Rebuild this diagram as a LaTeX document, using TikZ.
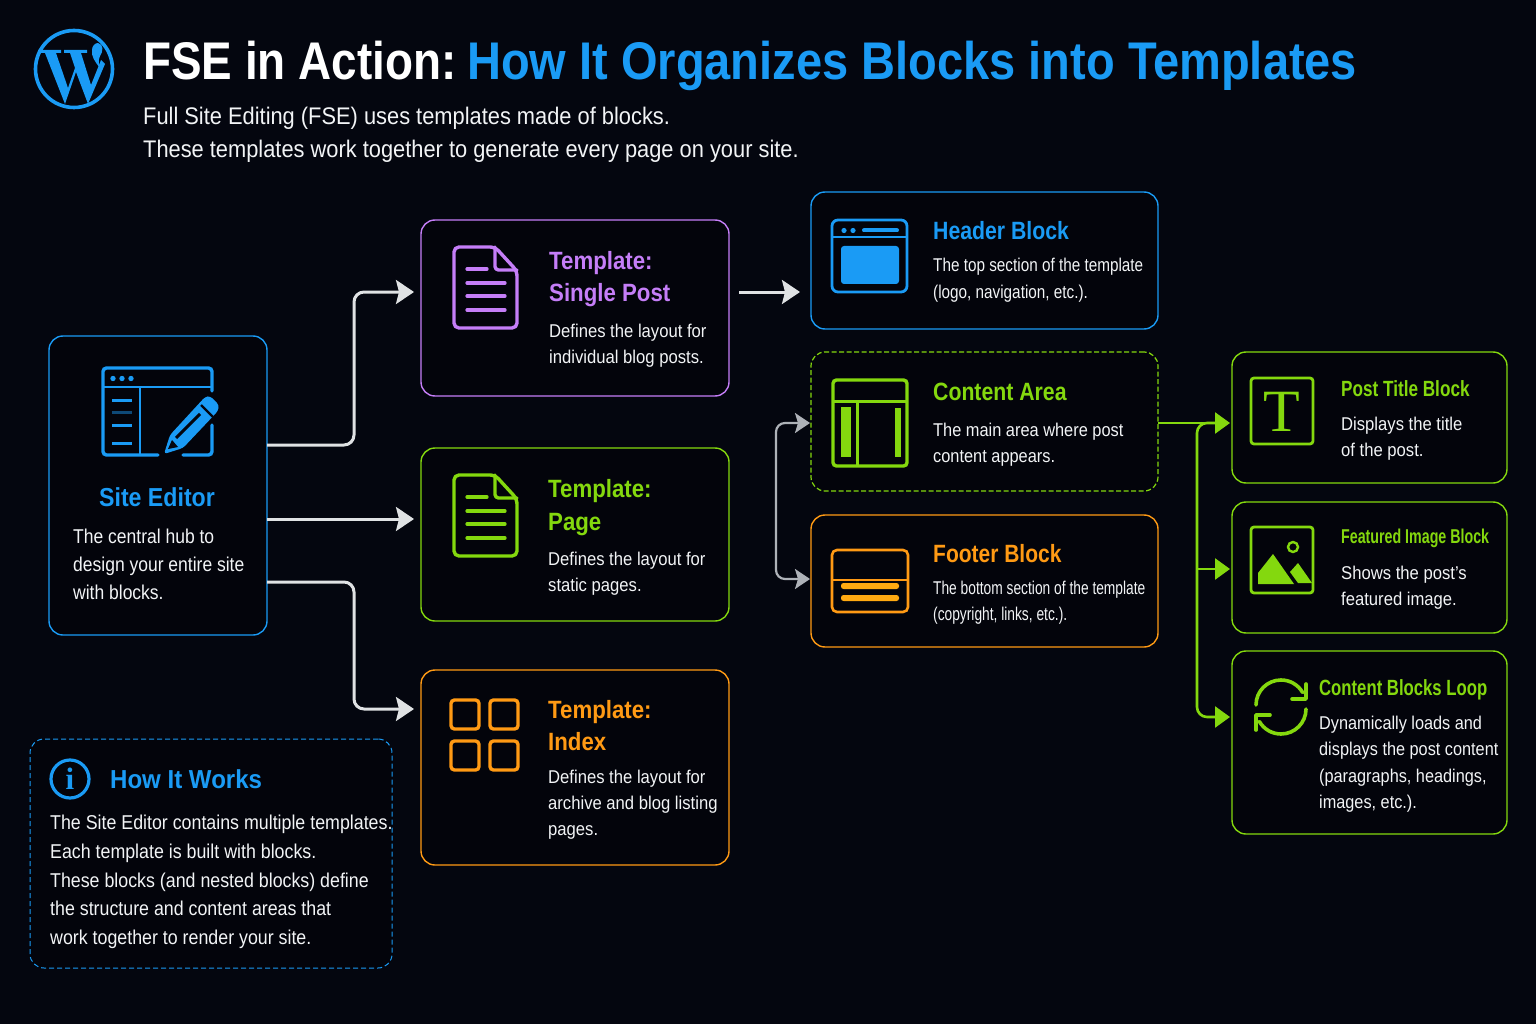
\documentclass[tikz,border=0pt]{standalone}
\usepackage{fontspec}
\setmainfont{Liberation Sans}
\newfontfamily\serifgl{Liberation Serif}
\usetikzlibrary{arrows.meta}
\definecolor{bgdark}{HTML}{04060F}
\definecolor{carddark}{HTML}{03040B}
\definecolor{wpblue}{HTML}{1A9BF5}
\definecolor{fsepurple}{HTML}{C57EF8}
\definecolor{fsegreen}{HTML}{84D80E}
\definecolor{fseorange}{HTML}{FF9A14}
\definecolor{bodywhite}{HTML}{F2F4F6}
\definecolor{flowwhite}{HTML}{E0E2E4}
\definecolor{flowgray}{HTML}{AEB2B8}
\tikzset{
	card/.style={draw=#1,fill=carddark,line width=1.4pt,rounded corners=14pt,inner sep=0pt,outer sep=0pt},
	sz/.style 2 args={font=\fontsize{#1}{#2}\selectfont},
	squeeze/.style={xscale=#1,transform shape},
	bodytxt/.style={anchor=north west,inner sep=0pt,align=left,text=bodywhite},
	headtxt/.style={anchor=north west,inner sep=0pt,align=left,text=#1},
	flow/.style={draw=flowwhite,line width=3pt,rounded corners=10pt,-{Stealth[length=18pt,width=24pt,inset=3pt]}},
	backflow/.style={draw=flowgray,line width=2.2pt,rounded corners=9pt,{Stealth[length=15pt,width=20pt,inset=3pt]}-{Stealth[length=15pt,width=20pt,inset=3pt]}},
	greenflow/.style={draw=fsegreen,line width=2.6pt,rounded corners=10pt,-{Stealth[length=15pt,width=21pt,inset=0pt]}},
	icon/.style={draw=#1,line width=3.4pt,rounded corners=3.5pt,line cap=round},
}
% page icon with the folded corner
\newcommand{\docicon}[3]{
	\draw[icon=#1,line join=round,rounded corners=5pt] (#2+41,#3) -- (#2,#3) -- (#2,#3+81) -- (#2+63,#3+81) -- (#2+63,#3+24) -- cycle;
	\draw[icon=#1,line join=round] (#2+41,#3) -- (#2+41,#3+23) -- (#2+63,#3+23);
	\draw[#1,line width=3.2pt,line cap=round] (#2+13,#3+22) -- (#2+33,#3+22);
	\foreach \yy in {36,49,63}
		\draw[#1,line width=3.2pt,line cap=round] (#2+13,#3+\yy) -- (#2+51,#3+\yy);
}
\begin{document}
\begin{tikzpicture}[x=1pt,y=-1pt]
	\fill[bgdark] (0,0) rectangle (1536,1024);
	\useasboundingbox (0,0) rectangle (1536,1024);
	% logo and title
	\draw[wpblue,line width=3.6pt] (74,69) circle (38.5pt);
	\fill[wpblue] (38,50) -- (61,50) -- (61,53) -- (56,53) -- (68,88) -- (75,68) -- (70,53) -- (64,53) -- (64,50) -- (87,50) -- (87,53) -- (81,53) -- (91,85) -- (101,60) -- (105,64) -- (88,104) -- (76,72) -- (65,104) -- (45,53) -- (38,53) -- cycle;
	\fill[wpblue] (98,43) .. controls (104,44) and (103,52) .. (100,56) .. controls (98,60) and (99,64) .. (100,68) .. controls (95,62) and (91,56) .. (92,50) .. controls (92,46) and (95,43) .. (98,43);
	\node[anchor=base west,inner sep=0pt,squeeze=0.865,text=white,sz={53}{53}] (title) at (143,80) {\textbf{FSE in Action:}};
	\node[anchor=base west,inner sep=0pt,squeeze=0.887,text=wpblue,sz={53}{53}] (titleblue) at (467,80) {\textbf{How It Organizes Blocks into Templates}};
	\node[bodytxt,sz={24}{33},squeeze=0.91] (subtitle) at (143,107) {Full Site Editing (FSE) uses templates made of blocks.\\These templates work together to generate every page on your site.};
	% boxes
	\node[card=wpblue,minimum width=218pt,minimum height=299pt] (editor) at (158,485.5) {};
	\node[card=fsepurple,minimum width=308pt,minimum height=176pt] (single) at (575,308) {};
	\node[card=fsegreen,minimum width=308pt,minimum height=173pt] (page) at (575,534.5) {};
	\node[card=fseorange,minimum width=308pt,minimum height=195pt] (index) at (575,767.5) {};
	\node[card=wpblue,minimum width=347pt,minimum height=137pt] (header) at (984.5,260.5) {};
	\node[card=fsegreen,dashed,dash pattern=on 5pt off 2.5pt,line width=1.2pt,minimum width=347pt,minimum height=139pt] (content) at (984.5,421.5) {};
	\node[card=fseorange,minimum width=347pt,minimum height=132pt] (footer) at (984.5,581) {};
	\node[card=fsegreen,minimum width=275pt,minimum height=131pt] (posttitle) at (1369.5,417.5) {};
	\node[card=fsegreen,minimum width=275pt,minimum height=131pt] (featured) at (1369.5,567.5) {};
	\node[card=fsegreen,minimum width=275pt,minimum height=183pt] (loop) at (1369.5,742.5) {};
	\node[card=wpblue,dashed,dash pattern=on 5pt off 3pt,line width=1pt,minimum width=362pt,minimum height=229pt] (howbox) at (211,853.5) {};
	% arrows
	\coordinate (singlein) at ([xshift=-7pt,yshift=16pt]single.west);
	\coordinate (pagein) at ([xshift=-7pt,yshift=15.5pt]page.west);
	\coordinate (indexin) at ([xshift=-7pt,yshift=58.5pt]index.west);
	\draw[flow] ([yshift=40.5pt]editor.east) -| ([xshift=-60pt]singlein) -- (singlein);
	\draw[flow] ([yshift=-33.5pt]editor.east) -- (pagein);
	\draw[flow] ([yshift=-96.5pt]editor.east) -| ([xshift=-60pt]indexin) -- (indexin);
	\draw[flow] ([xshift=10pt,yshift=16pt]single.east) -- ([xshift=-11pt,yshift=-31.5pt]header.west);
	\coordinate (contentin) at ([xshift=-1pt,yshift=-1.5pt]content.west);
	\coordinate (footerin) at ([xshift=-1pt,yshift=2pt]footer.west);
	\draw[backflow] (contentin) -- ([xshift=-34pt]contentin) |- (footerin);
	\coordinate (postin) at ([xshift=-2pt,yshift=-5.5pt]posttitle.west);
	\coordinate (featin) at ([xshift=-2pt,yshift=-1.5pt]featured.west);
	\coordinate (loopin) at ([xshift=-2pt,yshift=25.5pt]loop.west);
	\draw[greenflow] ([yshift=-1.5pt]content.east) -- (postin);
	\draw[greenflow] ([xshift=-15pt]postin) -- ([xshift=-33pt]postin) |- (loopin);
	\draw[greenflow,rounded corners=3pt] ([xshift=-33pt]featin) -- (featin);
	% site editor icon
	\draw[icon=wpblue] (158,455) -- (103,455) -- (103,368) -- (212,368) -- (212,391);
	\draw[icon=wpblue] (183,455) -- (212,455) -- (212,425);
	\draw[wpblue,line width=2.6pt] (103,387) -- (212,387);
	\draw[wpblue,line width=2.6pt] (140,387) -- (140,455);
	\foreach \xx in {113,122,131}
		\fill[wpblue] (\xx,378.5) circle (2.7pt);
	\foreach \yy in {400,425,443}
		\draw[wpblue,line width=3pt] (112,\yy) -- (132,\yy);
	\draw[wpblue!45!bgdark,line width=3pt] (112,412) -- (132,412);
	\fill[wpblue,rounded corners=3pt] (164,454) -- (170,435) -- (205,397) -- (210,396) -- (219,405) -- (218,411) -- (183,448) -- cycle;
	\draw[bgdark,line width=3pt] (176,438) -- (200,414);
	\draw[bgdark,line width=2.4pt] (201,405) -- (213,417);
	\fill[bgdark] (168,449) -- (172,440) -- (178,447) -- cycle;
	% template icons
	\docicon{fsepurple}{454}{247}
	\docicon{fsegreen}{454}{475}
	\foreach \xx in {451,490}
		\foreach \yy in {700,741}
			\draw[icon=fseorange] (\xx,\yy) rectangle (\xx+28,\yy+29);
	% header icon
	\draw[icon=wpblue,rounded corners=6pt,line width=2.8pt] (832,220) rectangle (907,292);
	\draw[wpblue,line width=2.4pt] (832,237) -- (907,237);
	\foreach \xx in {844,853}
		\fill[wpblue] (\xx,230.5) circle (2.6pt);
	\draw[wpblue,line width=4pt,line cap=round] (864,230.5) -- (897,230.5);
	\fill[wpblue,rounded corners=3pt] (841,246) rectangle (899,284);
	% content icon
	\draw[icon=fsegreen] (833,380) rectangle (907,466);
	\draw[fsegreen,line width=3pt] (833,401) -- (907,401);
	\draw[fsegreen,line width=3pt] (857,401) -- (857,466);
	\fill[fsegreen] (841,407) rectangle (851,457);
	\fill[fsegreen] (895,408) rectangle (901,457);
	% footer icon
	\draw[icon=fseorange,line width=2.6pt,rounded corners=5pt] (832,550) rectangle (908,612);
	\draw[fseorange,line width=2.2pt] (832,580) -- (908,580);
	\fill[fseorange!85!yellow,rounded corners=2.5pt] (841,583) rectangle (899,589);
	\fill[fseorange!85!yellow,rounded corners=2.5pt] (841,595) rectangle (899,601);
	% block icons
	\draw[icon=fsegreen,line width=2.8pt,rounded corners=3pt] (1251,378) rectangle (1313,444);
	\node[inner sep=0pt,text=fsegreen] (tglyph) at (1282,412) {\serifgl\fontsize{60}{60}\selectfont T};
	\draw[icon=fsegreen,line width=2.8pt,rounded corners=3pt] (1251,527) rectangle (1313,593);
	\draw[fsegreen,line width=2.4pt] (1293,547) circle (5pt);
	\fill[fsegreen] (1258,584) -- (1258,573) -- (1273,554) -- (1294,584) -- cycle;
	\fill[fsegreen] (1290,572) -- (1298,563) -- (1312,583) -- (1298,583) -- cycle;
	\draw[fsegreen,line width=3.6pt,line cap=round] (1256,705) arc[start angle=180,end angle=30,radius=25pt];
	\draw[fsegreen,line width=3.6pt,line cap=round,line join=round] (1292,699) -- (1306,699) -- (1306,684);
	\draw[fsegreen,line width=3.6pt,line cap=round] (1306,709) arc[start angle=0,end angle=-150,radius=25pt];
	\draw[fsegreen,line width=3.6pt,line cap=round,line join=round] (1270,715) -- (1256,715) -- (1256,730);
	\draw[wpblue,line width=3.2pt] (70,779) circle (19pt);
	\node[inner sep=0pt,text=wpblue] (infoglyph) at (70,779) {\serifgl\bfseries\fontsize{31}{31}\selectfont i};
	% site editor text
	\node[text=wpblue,inner sep=0pt,sz={26}{26},squeeze=0.89] (editorhead) at (157,497.5) {\textbf{Site Editor}};
	\node[bodytxt,sz={20}{28},squeeze=0.875] (editortxt) at (73,529) {The central hub to\\design your entire site\\with blocks.};
	% template text
	\node[headtxt=fsepurple,sz={25}{32},squeeze=0.89] (singlehead) at (549,251) {\textbf{Template:}\\\textbf{Single Post}};
	\node[bodytxt,sz={18.5}{26},squeeze=0.90] (singletxt) at (549,324) {Defines the layout for\\individual blog posts.};
	\node[headtxt=fsegreen,sz={25}{33},squeeze=0.89] (pagehead) at (548,479) {\textbf{Template:}\\\textbf{Page}};
	\node[bodytxt,sz={18.5}{26},squeeze=0.90] (pagetxt) at (548,552) {Defines the layout for\\static pages.};
	\node[headtxt=fseorange,sz={25}{32},squeeze=0.89] (indexhead) at (548,700) {\textbf{Template:}\\\textbf{Index}};
	\node[bodytxt,sz={18.5}{26},squeeze=0.90] (indextxt) at (548,770) {Defines the layout for\\archive and blog listing\\pages.};
	% middle text
	\node[headtxt=wpblue,sz={25}{25},squeeze=0.85] (headerhead) at (933,221) {\textbf{Header Block}};
	\node[bodytxt,sz={18.5}{27},squeeze=0.827] (headertxt) at (933,258) {The top section of the template\\(logo, navigation, etc.).};
	\node[headtxt=fsegreen,sz={25}{25},squeeze=0.85] (contenthead) at (933,383) {\textbf{Content Area}};
	\node[bodytxt,sz={18.5}{26},squeeze=0.885] (contenttxt) at (933,423) {The main area where post\\content appears.};
	\node[headtxt=fseorange,sz={25}{25},squeeze=0.84] (footerhead) at (933,544) {\textbf{Footer Block}};
	\node[bodytxt,sz={18.5}{26},squeeze=0.745] (footertxt) at (933,581) {The bottom section of the template\\(copyright, links, etc.).};
	% right text
	\node[headtxt=fsegreen,sz={22}{22},squeeze=0.78] (posthead) at (1341,380) {\textbf{Post Title Block}};
	\node[bodytxt,sz={18.5}{26},squeeze=0.90] (posttxt) at (1341,417) {Displays the title\\of the post.};
	\node[headtxt=fsegreen,sz={20}{20},squeeze=0.712] (feathead) at (1341,529) {\textbf{Featured Image Block}};
	\node[bodytxt,sz={18.5}{26},squeeze=0.90] (feattxt) at (1341,566) {Shows the post's\\featured image.};
	\node[headtxt=fsegreen,sz={22}{22},squeeze=0.76] (loophead) at (1319,679) {\textbf{Content Blocks Loop}};
	\node[bodytxt,sz={18.5}{26.3},squeeze=0.88] (looptxt) at (1319,716) {Dynamically loads and\\displays the post content\\(paragraphs, headings,\\images, etc.).};
	% how it works text
	\node[headtxt=wpblue,sz={26}{26},squeeze=0.925] (howhead) at (110,769) {\textbf{How It Works}};
	\node[bodytxt,sz={20}{28.7},squeeze=0.89] (howtxt) at (50,815) {The Site Editor contains multiple templates.\\Each template is built with blocks.\\These blocks (and nested blocks) define\\the structure and content areas that\\work together to render your site.};
\end{tikzpicture}
\end{document}
